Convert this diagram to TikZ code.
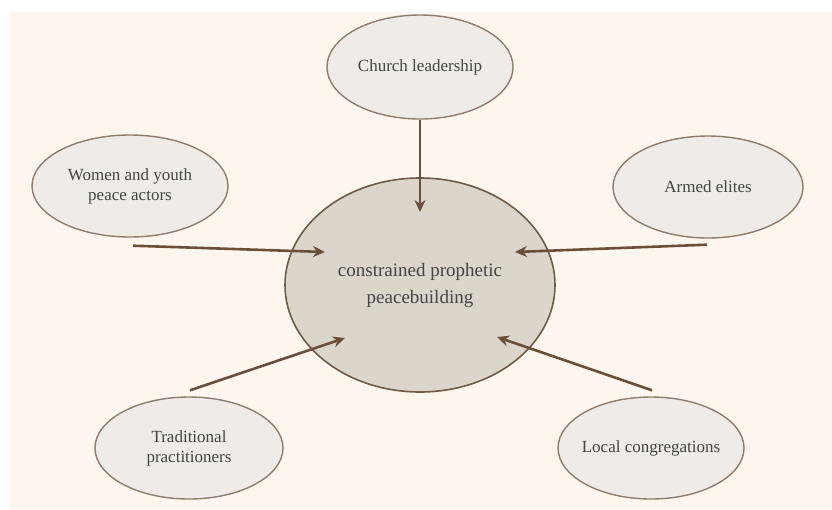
\documentclass[tikz,border=0pt]{standalone}
\usepackage{fontspec}
\setmainfont{Liberation Serif}
\usetikzlibrary{shapes.geometric,arrows.meta,calc}
\definecolor{bgbeige}{HTML}{FCF6EE}
\definecolor{smallfill}{HTML}{EFEBE6}
\definecolor{smalledge}{HTML}{8E7D6C}
\definecolor{bigfill}{HTML}{DCD5CC}
\definecolor{bigedge}{HTML}{6E5A48}
\definecolor{arrowcol}{HTML}{6B4F3A}
\definecolor{textcol}{HTML}{444444}
\tikzset{
  actor/.style={ellipse, draw=smalledge, fill=smallfill, line width=1.4pt,
    minimum width=188pt, minimum height=102pt, inner sep=0pt, align=center,
    text=textcol, font=\fontsize{17}{20}\selectfont},
  core/.style={ellipse, draw=bigedge, fill=bigfill, line width=1.6pt,
    minimum width=270pt, minimum height=214pt, inner sep=0pt, align=center,
    text=textcol, font=\fontsize{19}{27}\selectfont},
  influence/.style={draw=arrowcol, line width=2.6pt,
    -{Stealth[length=12pt,width=11pt]}},
}
\begin{document}
\begin{tikzpicture}[x=1pt,y=-1pt]
\useasboundingbox (0,0) rectangle (832,509);
\fill[white] (0,0) rectangle (832,509);
\fill[bgbeige] (10,12) rectangle (832,509);

\node[core] (c) at (420,285) {constrained prophetic\\peacebuilding};
\node[actor, minimum width=186pt, minimum height=104pt] (ch) at (420,67) {Church leadership};
\node[actor, minimum width=196pt] (w) at (130,186) {Women and youth\\peace actors};
\node[actor, minimum width=190pt] (a) at (708,187) {Armed elites};
\node[actor] (t) at (189,448) {Traditional\\practitioners};
\node[actor, minimum width=186pt, inner xsep=-4pt] (l) at (651,448) {Local congregations};

\draw[influence] (ch.south) -- ($(c.center)+(0,-73)$);
\draw[influence] ($(w.south)+(3,8)$) -- ($(c.center)+(-95,-33)$);
\draw[influence] ($(a.south)+(-1,6)$) -- ($(c.center)+(95,-33)$);
\draw[influence] ($(t.north)+(1,-6)$) -- ($(c.center)+(-75,53)$);
\draw[influence] ($(l.north)+(1,-6)$) -- ($(c.center)+(77,52)$);
\end{tikzpicture}
\end{document}
